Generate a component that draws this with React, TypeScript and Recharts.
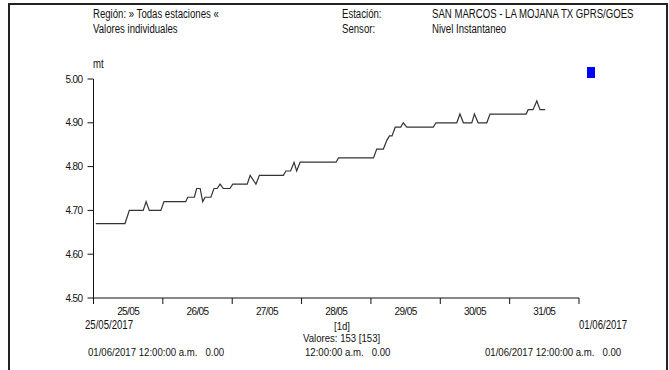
import { LineChart, Line, XAxis, YAxis } from "recharts"

// hours since 25/05/2017 00:00 and level in mt
const hours = [
  0.8, 10.9, 12.4, 17.2, 18.2, 19.3, 23.3, 24.4, 31.9, 32.6, 34.9, 35.7, 36.9, 37.8, 38.6,
  40.6, 41.7, 42.8, 43.8, 44.9, 47.2, 48.2, 53.2, 54.2, 56.2, 57.4, 65.7, 66.6, 68.2, 69.4,
  70.3, 71.5, 83.9, 84.8, 96.9, 98, 100.3, 101.5, 102.4, 103.3, 104.4, 106.3, 107.2, 108.4,
  117.6, 118.5, 125.7, 126.8, 128, 130.9, 131.8, 133.1, 136.1, 137.2, 149.7, 150.4, 152.1,
  153.4, 154.5, 156.3,
]
const levels = [
  4.67, 4.67, 4.7, 4.7, 4.72, 4.7, 4.7, 4.72, 4.72, 4.73, 4.73, 4.75, 4.75, 4.72, 4.73,
  4.73, 4.75, 4.75, 4.76, 4.75, 4.75, 4.76, 4.76, 4.78, 4.76, 4.78, 4.78, 4.79, 4.79, 4.81,
  4.79, 4.81, 4.81, 4.82, 4.82, 4.84, 4.84, 4.86, 4.87, 4.87, 4.89, 4.89, 4.9, 4.89,
  4.89, 4.9, 4.9, 4.92, 4.9, 4.9, 4.92, 4.9, 4.9, 4.92, 4.92, 4.93, 4.93,
  4.95, 4.93, 4.93,
]

const dayTicks = [0, 24, 48, 72, 96, 120, 144, 168]
const dayLabelTicks = [12, 36, 60, 84, 108, 132, 156]
const dayLabels = ["25/05", "26/05", "27/05", "28/05", "29/05", "30/05", "31/05"]
const levelTicks = [4.5, 4.6, 4.7, 4.8, 4.9, 5.0]

const data = hours.map((h, i) => ({ hour: h, level: levels[i] }))

const font = '"Liberation Sans", Arial, sans-serif'
const tickStyle = { fontSize: 10, fill: "#111", fontFamily: font, letterSpacing: -0.6 }

function Txt({ x, y, size = 12, children }: { x: number; y: number; size?: number; children: any }) {
  return (
    <div
      style={{
        position: "absolute",
        left: x,
        top: y,
        whiteSpace: "pre",
        fontSize: size,
        fontFamily: font,
        color: "#111",
        lineHeight: size - 1 + "px",
        transform: `scaleX(${(0.8 * 12) / size})`,
        transformOrigin: "left top",
      }}
    >
      {children}
    </div>
  )
}

export default function App() {
  return (
    <div style={{ position: "absolute", left: 0, top: 0, width: 669, height: 370, overflow: "hidden", background: "#fff" }}>
      <div style={{ position: "absolute", left: 8, top: 3, width: 656, height: 380, border: "2px solid #222" }} />

      <Txt x={93} y={9}>Región: » Todas estaciones «</Txt>
      <Txt x={93} y={24}>Valores individuales</Txt>
      <Txt x={342} y={9}>Estación:</Txt>
      <Txt x={342} y={24}>Sensor:</Txt>
      <Txt x={432} y={9}>SAN MARCOS - LA MOJANA TX GPRS/GOES</Txt>
      <Txt x={432} y={24}>Nivel Instantaneo</Txt>
      <Txt x={93} y={59}>mt</Txt>
      <div style={{ position: "absolute", left: 587, top: 67, width: 8, height: 11, background: "#0000ff" }} />

      <div style={{ position: "absolute", left: 0, top: 0 }}>
        <LineChart width={669} height={370} data={data} margin={{ top: 79, right: 90, bottom: 42, left: 13.5 }}>
          <XAxis
            xAxisId="days"
            dataKey="hour"
            type="number"
            domain={[0, 168]}
            ticks={dayTicks}
            height={1}
            tick={() => <g />}
            tickSize={6}
            stroke="#111"
          />
          <XAxis
            xAxisId="labels"
            dataKey="hour"
            type="number"
            domain={[0, 168]}
            ticks={dayLabelTicks}
            height={29}
            axisLine={false}
            tickLine={false}
            tickSize={6}
            tickMargin={3}
            tick={tickStyle}
            tickFormatter={(v: number) => dayLabels[dayLabelTicks.indexOf(v)] ?? ""}
          />
          <YAxis
            type="number"
            domain={[4.5, 5.0]}
            ticks={levelTicks}
            width={80}
            tickSize={6}
            tickMargin={5}
            stroke="#111"
            tick={tickStyle}
            tickFormatter={(v: number) => v.toFixed(2)}
          />
          <Line
            xAxisId="days"
            type="linear"
            dataKey="level"
            stroke="#333"
            strokeWidth={1.2}
            dot={false}
            isAnimationActive={false}
          />
        </LineChart>
      </div>

      <Txt x={85} y={320}>25/05/2017</Txt>
      <Txt x={579} y={320}>01/06/2017</Txt>
      <Txt x={334} y={322} size={10}>[1d]</Txt>
      <Txt x={303} y={334} size={10}>Valores: 153 [153]</Txt>
      <Txt x={88} y={347} size={11}>{"01/06/2017 12:00:00 a.m.   0.00"}</Txt>
      <Txt x={305} y={347} size={11}>{"12:00:00 a.m.   0.00"}</Txt>
      <Txt x={485} y={347} size={11}>{"01/06/2017 12:00:00 a.m.   0.00"}</Txt>
    </div>
  )
}
